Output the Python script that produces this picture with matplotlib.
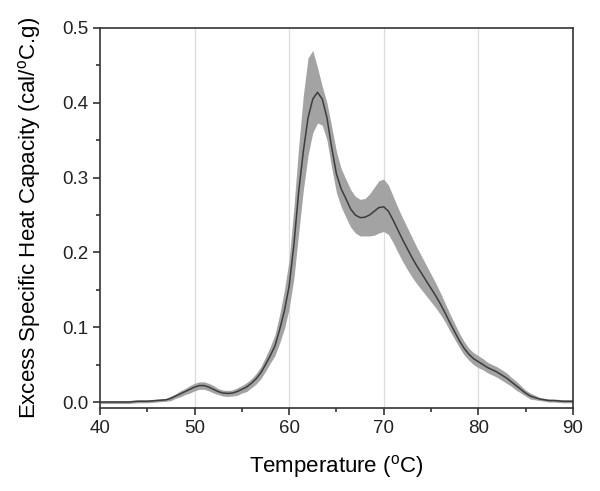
import matplotlib
matplotlib.use("Agg")
import matplotlib.pyplot as plt
from matplotlib.ticker import MultipleLocator
import numpy as np

plt.rcParams['font.family'] = ['Liberation Sans', 'DejaVu Sans']
plt.rcParams['mathtext.fontset'] = 'custom'
plt.rcParams['mathtext.rm'] = 'Liberation Sans'

temperature = [40, 41, 42, 43, 44, 45, 46, 47, 47.5, 48, 48.5, 49, 49.5, 50, 50.5, 51,
               51.5, 52, 52.5, 53, 53.5, 54, 54.5, 55, 55.5, 56, 56.5, 57, 57.5, 58,
               58.5, 59, 59.5, 60, 60.5, 61, 61.5, 62, 62.5, 63, 63.5, 64, 64.5, 65,
               65.5, 66, 66.5, 67, 67.5, 68, 68.5, 69, 69.5, 70, 70.5, 71, 71.5, 72,
               72.5, 73, 73.5, 74, 74.5, 75, 75.5, 76, 76.5, 77, 77.5, 78, 78.5, 79,
               79.5, 80, 80.5, 81, 81.5, 82, 82.5, 83, 83.5, 84, 84.5, 85, 85.5, 86,
               86.5, 87, 87.5, 88, 89, 90]
mean_cp = [0.000, 0.000, 0.000, 0.000, 0.001, 0.001, 0.002, 0.003, 0.005, 0.008, 0.011, 0.014,
           0.017, 0.020, 0.022, 0.022, 0.020, 0.017, 0.014, 0.012, 0.0115, 0.012, 0.014, 0.017,
           0.020, 0.025, 0.031, 0.039, 0.050, 0.062, 0.075, 0.097, 0.122, 0.155, 0.210, 0.280,
           0.335, 0.380, 0.405, 0.414, 0.405, 0.380, 0.340, 0.305, 0.285, 0.272, 0.258, 0.250,
           0.2465, 0.247, 0.250, 0.255, 0.260, 0.261, 0.255, 0.243, 0.230, 0.217, 0.205, 0.193,
           0.182, 0.172, 0.162, 0.152, 0.142, 0.131, 0.119, 0.106, 0.094, 0.082, 0.072, 0.064,
           0.058, 0.054, 0.050, 0.046, 0.043, 0.040, 0.036, 0.032, 0.027, 0.022, 0.017, 0.012,
           0.008, 0.006, 0.004, 0.003, 0.002, 0.002, 0.001, 0.001]
upper_cp = [0.002, 0.002, 0.002, 0.002, 0.003, 0.003, 0.004, 0.005, 0.008, 0.011, 0.015, 0.018,
            0.022, 0.025, 0.027, 0.027, 0.025, 0.022, 0.018, 0.016, 0.0155, 0.016, 0.019, 0.022,
            0.026, 0.031, 0.038, 0.047, 0.060, 0.074, 0.090, 0.117, 0.150, 0.190, 0.260, 0.340,
            0.410, 0.460, 0.470, 0.447, 0.422, 0.400, 0.368, 0.335, 0.312, 0.298, 0.284, 0.275,
            0.271, 0.272, 0.278, 0.287, 0.296, 0.298, 0.290, 0.275, 0.260, 0.246, 0.233, 0.220,
            0.207, 0.195, 0.183, 0.171, 0.159, 0.146, 0.132, 0.118, 0.105, 0.092, 0.081, 0.072,
            0.066, 0.062, 0.058, 0.053, 0.050, 0.047, 0.043, 0.039, 0.033, 0.028, 0.022, 0.016,
            0.012, 0.009, 0.006, 0.005, 0.004, 0.004, 0.003, 0.003]
lower_cp = [-0.002, -0.002, -0.002, -0.002, -0.001, -0.001, 0.000, 0.001, 0.002, 0.005, 0.007, 0.010,
            0.012, 0.015, 0.017, 0.017, 0.015, 0.012, 0.010, 0.008, 0.0075, 0.008, 0.009, 0.012,
            0.014, 0.019, 0.024, 0.031, 0.041, 0.052, 0.062, 0.079, 0.098, 0.125, 0.165, 0.225,
            0.283, 0.330, 0.360, 0.373, 0.370, 0.350, 0.313, 0.280, 0.261, 0.247, 0.234, 0.226,
            0.222, 0.222, 0.222, 0.223, 0.226, 0.228, 0.224, 0.213, 0.200, 0.188, 0.177, 0.167,
            0.158, 0.150, 0.142, 0.134, 0.126, 0.117, 0.107, 0.095, 0.084, 0.073, 0.063, 0.056,
            0.050, 0.046, 0.043, 0.039, 0.036, 0.033, 0.029, 0.025, 0.021, 0.016, 0.012, 0.008,
            0.004, 0.003, 0.002, 0.001, 0.000, 0.000, -0.001, -0.001]

x_ticks = [40, 50, 60, 70, 80, 90]
y_ticks = [0.0, 0.1, 0.2, 0.3, 0.4, 0.5]

T = np.array(temperature)

fig = plt.figure(figsize=(6.0, 4.91), dpi=100)
ax = fig.add_axes([0.1667, 0.169, 0.788, 0.774])

for xv in [50, 60, 70, 80]:
    ax.axvline(xv, color='#dcdcdc', lw=0.9, zorder=0)

ax.fill_between(T, lower_cp, upper_cp, color='#a3a3a3', lw=0, zorder=1)
ax.plot(T, mean_cp, color='#3c3c3c', lw=1.1, zorder=2)

ax.set_xlim(40, 90)
ax.set_ylim(-0.008, 0.5)
ax.set_xticks(x_ticks)
ax.set_yticks(y_ticks)
ax.set_xticklabels([str(v) for v in x_ticks])
ax.set_yticklabels([f"{v:.1f}" for v in y_ticks])
ax.xaxis.set_minor_locator(MultipleLocator(5))
ax.yaxis.set_minor_locator(MultipleLocator(0.05))
ax.tick_params(which='both', direction='out', top=False, right=False,
               labelsize=13.5, width=1.1, colors='#222222')
ax.tick_params(which='major', length=5)
ax.tick_params(which='minor', length=3)
for s in ax.spines.values():
    s.set_linewidth(1.2)
    s.set_color('#333333')

ax.set_xlabel(r'Temperature ($^{\mathrm{o}}$C)', fontsize=16, labelpad=12)
ax.set_ylabel(r'Excess Specific Heat Capacity (cal/$^{\mathrm{o}}$C.g)', fontsize=16, labelpad=14)

fig.savefig('out.png', dpi=100)
